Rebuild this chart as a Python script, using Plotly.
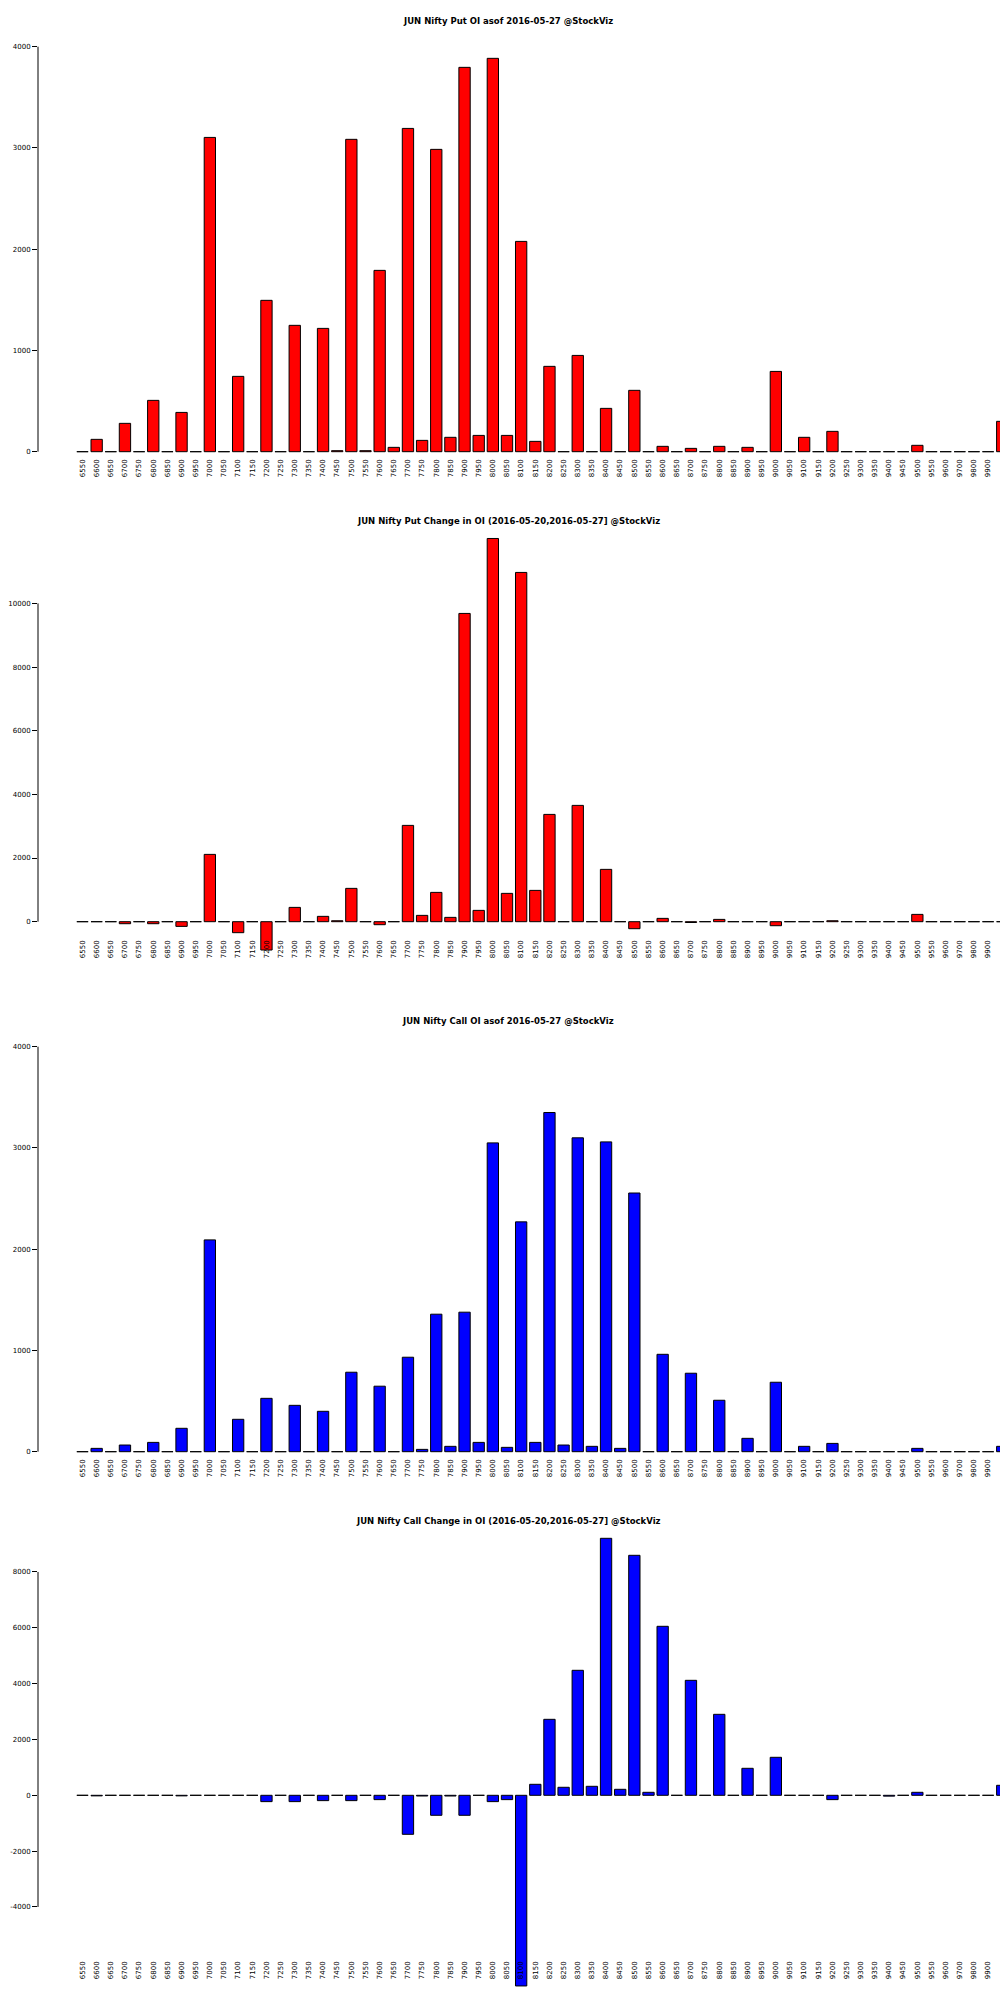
import plotly.graph_objects as go

strikes = ["6550","6600","6650","6700","6750","6800","6850","6900","6950","7000",
           "7050","7100","7150","7200","7250","7300","7350","7400","7450","7500",
           "7550","7600","7650","7700","7750","7800","7850","7900","7950","8000",
           "8050","8100","8150","8200","8250","8300","8350","8400","8450","8500",
           "8550","8600","8650","8700","8750","8800","8850","8900","8950","9000",
           "9050","9100","9150","9200","9250","9300","9350","9400","9450","9500",
           "9550","9600","9700","9800","9900","10000"]

put_oi = [0,122,0,280,0,507,0,388,0,3104,
          0,744,0,1495,0,1248,0,1218,10,3085,
          10,1791,43,3193,112,2986,142,3796,161,3885,
          161,2077,102,843,0,951,0,428,0,606,
          0,53,0,33,0,53,0,43,0,793,
          0,142,0,201,0,0,0,0,0,63,
          0,0,0,0,0,300]

put_chg = [0,0,0,-63,0,-63,0,-147,0,2115,
           0,-345,0,-890,0,450,0,168,30,1047,
           0,-94,0,3026,199,921,136,9685,356,12040,
           890,10973,984,3371,0,3654,0,1644,0,-220,
           0,105,0,-25,0,73,0,0,0,-126,
           0,0,0,30,0,0,0,0,0,230,
           0,0,0,0,0,0]

call_oi = [0,33,0,66,0,92,0,231,0,2092,
           0,320,0,527,0,458,0,399,0,785,
           0,647,0,933,23,1358,53,1378,92,3050,
           43,2270,92,3350,66,3100,53,3060,33,2555,
           0,962,0,775,0,508,0,132,0,686,
           0,53,0,82,0,0,0,0,0,33,
           0,0,0,0,0,53]

call_chg = [0,-20,0,0,0,0,0,-20,0,0,
            0,0,0,-227,0,-227,0,-191,0,-191,
            0,-155,0,-1397,-25,-716,-25,-716,0,-227,
            -155,-6830,394,2722,287,4478,322,9206,215,8597,
            107,6054,0,4119,0,2901,0,967,0,1361,
            0,0,0,-155,0,0,0,-30,0,107,
            0,0,0,0,0,358]

titles = ["JUN Nifty Put OI asof 2016-05-27 @StockViz",
          "JUN Nifty Put Change in OI (2016-05-20,2016-05-27] @StockViz",
          "JUN Nifty Call OI asof 2016-05-27 @StockViz",
          "JUN Nifty Call Change in OI (2016-05-20,2016-05-27] @StockViz"]

yticks = [[0, 1000, 2000, 3000, 4000],
          [0, 2000, 4000, 6000, 8000, 10000],
          [0, 1000, 2000, 3000, 4000],
          [-4000, -2000, 0, 2000, 4000, 6000, 8000]]

series = [put_oi, put_chg, call_oi, call_chg]
colors = ["#FF0000", "#FF0000", "#0000FF", "#0000FF"]

# layout geometry in pixels (figure 1000 x 2000)
W, H = 1000, 2000
# per panel: zero pixel, units per pixel, plot top, plot bottom, label top
geom = [
    (451.7, 4000/405.0, 40, 458, 460),
    (921.7, 10000/318.3, 530, 960, 941),
    (1451.7, 4000/405.0, 1040, 1458, 1460),
    (1795.3, 2000/55.83, 1530, 1995, 1962),
]
title_y = [20.7, 520.7, 1020.7, 1520.7]
x_left_px = 38.0
step_px = 14.15
first_center_px = 82.5
xr = [(x_left_px - first_center_px) / step_px, (W - first_center_px) / step_px]

fig = go.Figure()
shapes = []
annotations = []
layout = {}
for k in range(4):
    zero, upp, top, bot, ltop = geom[k]
    ax = "" if k == 0 else str(k + 1)
    fig.add_trace(go.Bar(
        x=strikes, y=series[k], width=0.8,
        marker=dict(color=colors[k], line=dict(color="black", width=1)),
        xaxis="x" + ax, yaxis="y" + ax, showlegend=False,
    ))
    ymin = -(bot - zero) * upp
    ymax = (zero - top) * upp
    dom = [1 - bot / H, 1 - top / H]
    layout["xaxis" + ax] = dict(
        domain=[x_left_px / W, 1.0], range=xr, type="category",
        categoryorder="array", categoryarray=strikes,
        anchor="y" + ax, showgrid=False, zeroline=False, showline=False,
        ticks="", tickangle=-90, tickfont=dict(family="DejaVu Sans", size=7, color="black"),
        ticklabelstandoff=int(round(ltop - bot - 3)),
        fixedrange=True,
    )
    layout["yaxis" + ax] = dict(
        domain=dom, range=[ymin, ymax], anchor="x" + ax,
        showgrid=False, zeroline=False, showline=False,
        tickmode="array", tickvals=yticks[k], ticktext=[str(v) for v in yticks[k]],
        ticks="outside", ticklen=5, tickwidth=1, tickcolor="black",
        tickfont=dict(family="DejaVu Sans", size=7, color="black"),
        fixedrange=True,
    )
    shapes.append(dict(type="line", xref="paper", yref="y" + ax,
                       x0=x_left_px / W, x1=x_left_px / W,
                       y0=min(yticks[k]), y1=max(yticks[k]),
                       line=dict(color="black", width=1)))
    annotations.append(dict(text="<b>" + titles[k] + "</b>", xref="paper", yref="paper",
                            x=508.5 / W, y=1 - title_y[k] / H, xanchor="center", yanchor="middle",
                            showarrow=False,
                            font=dict(family="DejaVu Sans", size=8.5, color="black")))

fig.update_layout(
    width=W, height=H, margin=dict(l=0, r=0, t=0, b=0),
    paper_bgcolor="white", plot_bgcolor="white",
    shapes=shapes, annotations=annotations, bargap=0.2,
    **layout,
)
fig.write_html("out.html", config={"displayModeBar": False},
               post_script="document.body.style.margin='0';document.body.style.padding='0';")
